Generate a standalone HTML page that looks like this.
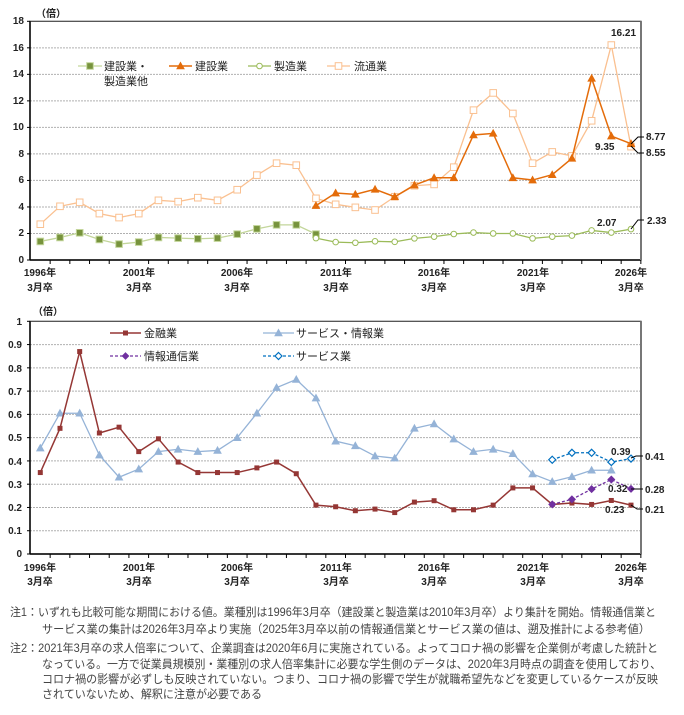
<!DOCTYPE html>
<html><head><meta charset="utf-8"><style>
body{margin:0;background:#fff;}
svg{display:block;font-family:"Liberation Sans","Noto Sans CJK JP",sans-serif;}
.t{font-size:10px;fill:#222;font-weight:bold}
.lg{font-size:11px;fill:#222}
.n{font-size:11.5px;fill:#444}
</style></head><body>
<svg id="s" width="684" height="715" viewBox="0 0 684 715" xmlns="http://www.w3.org/2000/svg">
<g id="grid"></g>
<g id="series"></g>
<text x="36" y="17" class="t" font-weight="normal">（倍）</text>
<g class="t" text-anchor="end">
<text x="24" y="24">18</text><text x="24" y="51">16</text><text x="24" y="77">14</text><text x="24" y="104">12</text><text x="24" y="130">10</text><text x="24" y="157">8</text><text x="24" y="183">6</text><text x="24" y="210">4</text><text x="24" y="236">2</text><text x="24" y="263">0</text>
</g>
<g class="t" text-anchor="middle">
<text x="40" y="276">1996年</text><text x="40" y="291">3月卒</text>
<text x="139" y="276">2001年</text><text x="139" y="291">3月卒</text>
<text x="237" y="276">2006年</text><text x="237" y="291">3月卒</text>
<text x="336" y="276">2011年</text><text x="336" y="291">3月卒</text>
<text x="434" y="276">2016年</text><text x="434" y="291">3月卒</text>
<text x="533" y="276">2021年</text><text x="533" y="291">3月卒</text>
<text x="631" y="276">2026年</text><text x="631" y="291">3月卒</text>
</g>
<g class="lg">
<text x="104" y="70">建設業・</text><text x="104" y="85">製造業他</text>
<text x="195" y="70">建設業</text>
<text x="274" y="70">製造業</text>
<text x="354" y="70">流通業</text>
</g>
<g class="t">
<text x="611" y="36">16.21</text>
<text x="595" y="150">9.35</text>
<text x="646" y="140">8.77</text>
<text x="646" y="156">8.55</text>
<text x="597" y="226">2.07</text>
<text x="647" y="224">2.33</text>
</g>
<text x="33" y="315" class="t" font-weight="normal">（倍）</text>
<g class="t" text-anchor="end">
<text x="22" y="325">1</text><text x="22" y="348">0.9</text><text x="22" y="372">0.8</text><text x="22" y="395">0.7</text><text x="22" y="418">0.6</text><text x="22" y="441">0.5</text><text x="22" y="465">0.4</text><text x="22" y="488">0.3</text><text x="22" y="511">0.2</text><text x="22" y="534">0.1</text><text x="22" y="557">0</text>
</g>
<g class="t" text-anchor="middle">
<text x="40" y="571">1996年</text><text x="40" y="585">3月卒</text>
<text x="139" y="571">2001年</text><text x="139" y="585">3月卒</text>
<text x="237" y="571">2006年</text><text x="237" y="585">3月卒</text>
<text x="336" y="571">2011年</text><text x="336" y="585">3月卒</text>
<text x="434" y="571">2016年</text><text x="434" y="585">3月卒</text>
<text x="533" y="571">2021年</text><text x="533" y="585">3月卒</text>
<text x="631" y="571">2026年</text><text x="631" y="585">3月卒</text>
</g>
<g class="lg">
<text x="144" y="337">金融業</text>
<text x="296" y="337">サービス・情報業</text>
<text x="144" y="360">情報通信業</text>
<text x="296" y="360">サービス業</text>
</g>
<g class="t">
<text x="611" y="455">0.39</text>
<text x="645" y="460">0.41</text>
<text x="608" y="492">0.32</text>
<text x="645" y="493">0.28</text>
<text x="605" y="513">0.23</text>
<text x="645" y="513">0.21</text>
</g>
<g class="n">
<text x="10" y="616" textLength="646" lengthAdjust="spacingAndGlyphs">注1：いずれも比較可能な期間における値。業種別は1996年3月卒（建設業と製造業は2010年3月卒）より集計を開始。情報通信業と</text>
<text x="42" y="633" textLength="608" lengthAdjust="spacingAndGlyphs">サービス業の集計は2026年3月卒より実施（2025年3月卒以前の情報通信業とサービス業の値は、遡及推計による参考値）</text>
<text x="10" y="652" textLength="648" lengthAdjust="spacingAndGlyphs">注2：2021年3月卒の求人倍率について、企業調査は2020年6月に実施されている。よってコロナ禍の影響を企業側が考慮した統計と</text>
<text x="42" y="668" textLength="619" lengthAdjust="spacingAndGlyphs">なっている。一方で従業員規模別・業種別の求人倍率集計に必要な学生側のデータは、2020年3月時点の調査を使用しており、</text>
<text x="42" y="683" textLength="616" lengthAdjust="spacingAndGlyphs">コロナ禍の影響が必ずしも反映されていない。つまり、コロナ禍の影響で学生が就職希望先などを変更しているケースが反映</text>
<text x="42" y="698" textLength="220" lengthAdjust="spacingAndGlyphs">されていないため、解釈に注意が必要である</text>
</g>
</svg>
<script>
var NS="http://www.w3.org/2000/svg";
var G=document.getElementById("grid"),S=document.getElementById("series");
function el(p,t,a){var e=document.createElementNS(NS,t);for(var k in a)e.setAttribute(k,a[k]);p.appendChild(e);return e;}
function X(i){return 40.3+19.69*i;}
function axes(top,bot,n){
 for(var k=1;k<n;k++){var y=bot-(bot-top)*k/n;el(G,"line",{x1:30,x2:641,y1:y,y2:y,stroke:"#b0b0b0","stroke-dasharray":"2,1","stroke-width":1});}
 el(G,"rect",{x:30,y:top,width:611,height:bot-top,fill:"none",stroke:"#444","stroke-width":1.2});
 el(G,"line",{x1:30,x2:30,y1:top,y2:bot,stroke:"#000","stroke-width":1.5});
 el(G,"line",{x1:30,x2:641,y1:bot,y2:bot,stroke:"#000","stroke-width":1.5});
 el(G,"line",{x1:641,x2:641,y1:top,y2:bot,stroke:"#777","stroke-width":2});
 for(var i=0;i<31;i++){var x=X(i)+9.85;el(G,"line",{x1:x,x2:x,y1:bot,y2:bot+4,stroke:"#000"});}
 for(var k=0;k<=n;k++){var y=bot-(bot-top)*k/n;el(G,"line",{x1:27,x2:30,y1:y,y2:y,stroke:"#000"});}
}
axes(21.3,260,9);axes(321.3,554,10);
function ser(start,vals,f,col,w,dash,mk,mfill,ms){
 var pts=vals.map(function(v,j){return [X(start+j),f(v)];});
 el(S,"polyline",{points:pts.map(function(p){return p.join(",")}).join(" "),fill:"none",stroke:col,"stroke-width":w,"stroke-dasharray":dash||"none"});
 pts.forEach(function(p){marker(p[0],p[1],mk,mfill,col,ms);});
}
function marker(x,y,mk,fill,col,s){
 if(mk=="sq")el(S,"rect",{x:x-s,y:y-s,width:2*s,height:2*s,fill:fill,stroke:col,"stroke-width":1});
 else if(mk=="tri")el(S,"polygon",{points:(x)+","+(y-s)+" "+(x-s)+","+(y+s*0.8)+" "+(x+s)+","+(y+s*0.8),fill:fill,stroke:col});
 else if(mk=="c")el(S,"circle",{cx:x,cy:y,r:s,fill:fill,stroke:col,"stroke-width":1});
 else if(mk=="d")el(S,"polygon",{points:x+","+(y-s)+" "+(x+s)+","+y+" "+x+","+(y+s)+" "+(x-s)+","+y,fill:fill,stroke:col,"stroke-width":1.2});
}
var T=function(v){return 260-13.26*v;}, B=function(v){return 554-232.7*v;};
ser(0,[1.4,1.7,2.05,1.55,1.2,1.35,1.7,1.65,1.6,1.65,1.95,2.35,2.65,2.65,1.95],T,"#c3d69b",1.3,null,"sq","#77933c",3.3);
ser(0,[2.7,4.05,4.35,3.5,3.2,3.5,4.5,4.4,4.7,4.5,5.3,6.4,7.3,7.15,4.65,4.2,3.97,3.77,4.77,5.6,5.7,7.0,11.3,12.6,11.05,7.3,8.15,7.85,10.5,16.21,8.55],T,"#fac090",1.3,null,"sq","#fff",3.3);
ser(14,[1.65,1.35,1.3,1.41,1.37,1.63,1.76,1.96,2.07,2.0,2.0,1.63,1.76,1.84,2.23,2.07,2.33],T,"#9bbb59",1.3,null,"c","#fff",2.8);
ser(14,[4.1,5.05,4.95,5.33,4.77,5.65,6.2,6.2,9.43,9.55,6.2,6.03,6.43,7.67,13.7,9.35,8.77],T,"#e46c0a",1.5,null,"tri","#e46c0a",3.5);
ser(0,[0.455,0.605,0.605,0.425,0.33,0.365,0.44,0.45,0.44,0.445,0.5,0.605,0.715,0.75,0.67,0.485,0.465,0.421,0.412,0.54,0.559,0.494,0.44,0.45,0.431,0.344,0.311,0.332,0.36,0.36],B,"#95b3d7",1.3,null,"tri","#95b3d7",3.5);
ser(0,[0.35,0.54,0.87,0.52,0.545,0.44,0.495,0.395,0.35,0.35,0.35,0.37,0.395,0.345,0.21,0.203,0.186,0.193,0.178,0.223,0.229,0.19,0.19,0.21,0.284,0.284,0.213,0.219,0.213,0.23,0.21],B,"#953735",1.5,null,"sq","#953735",2);
ser(26,[0.213,0.235,0.279,0.32,0.28],B,"#7030a0",1.3,"3,2","d","#7030a0",3.2);
ser(26,[0.405,0.435,0.435,0.395,0.41],B,"#0070c0",1.3,"3,2","d","#fff",3.5);
function leg(x1,x2,y,col,w,dash,mk,fill,s){el(S,"line",{x1:x1,x2:x2,y1:y,y2:y,stroke:col,"stroke-width":w,"stroke-dasharray":dash||"none"});marker((x1+x2)/2,y,mk,fill,col,s);}
leg(78,102,66,"#c3d69b",1.3,null,"sq","#77933c",3.3);
leg(169,192,66,"#e46c0a",1.5,null,"tri","#e46c0a",3.5);
leg(248,271,66,"#9bbb59",1.3,null,"c","#fff",2.8);
leg(327,350,66,"#fac090",1.3,null,"sq","#fff",3.3);
leg(110,141,333,"#953735",1.5,null,"sq","#953735",2);
leg(263,294,333,"#95b3d7",1.3,null,"tri","#95b3d7",3.5);
leg(110,141,356,"#7030a0",1.3,"3,2","d","#7030a0",3);
leg(263,294,356,"#0070c0",1.3,"3,2","d","#fff",3.5);
function cl(pts){el(S,"polyline",{points:pts,fill:"none",stroke:"#000","stroke-width":1});}
cl("631,144 638,137 644,137");cl("631,146 638,153 644,153");cl("631,229 638,220 644,220");
cl("631,458 636,456 643,456");cl("631,489 643,489");cl("631,505 637,509 643,509");
</script>
</body></html>
